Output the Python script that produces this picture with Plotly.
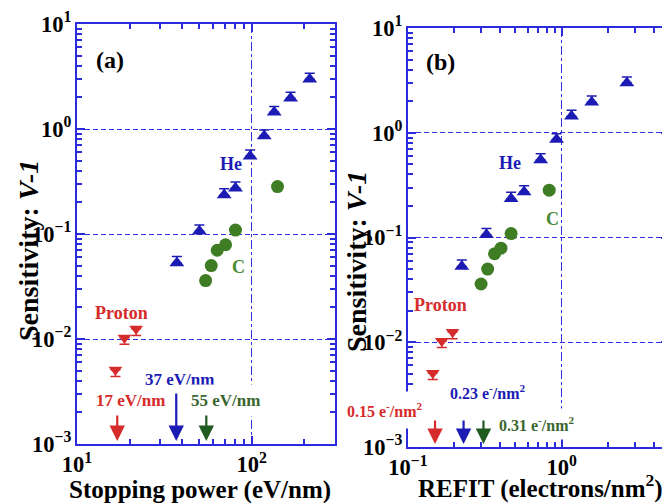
import math
import plotly.graph_objects as go
from plotly.subplots import make_subplots

# ---------------- data ----------------
he_sp = [37.3, 50.2, 69.6, 80.8, 98.0, 118.0, 134.6, 167.0, 215.0]
he_refit = [0.224, 0.324, 0.469, 0.57, 0.73, 0.927, 1.16, 1.57, 2.66]
he_sens = [0.053, 0.106, 0.235, 0.272, 0.55, 0.86, 1.44, 1.96, 2.98]
he_err = [0.008, 0.016, 0.035, 0.04, 0.08, 0.12, 0.2, 0.28, 0.42]

c_sp = [54.5, 58.7, 63.5, 70.9, 80.8, 140.6]
c_refit = [0.299, 0.33, 0.366, 0.403, 0.469, 0.83]
c_sens = [0.036, 0.050, 0.070, 0.079, 0.109, 0.283]

p_sp = [16.6, 18.7, 21.8]
p_refit = [0.145, 0.166, 0.195]
p_sens = [0.0051, 0.0103, 0.0125]
p_err = [0.0007, 0.0014, 0.0017]

thr_sp = [17, 37, 55]
thr_sp_labels = ["17 eV/nm", "37 eV/nm", "55 eV/nm"]
thr_refit = [0.15, 0.23, 0.31]
thr_refit_labels = ["0.15 e<sup>-</sup>/nm<sup>2</sup>", "0.23 e<sup>-</sup>/nm<sup>2</sup>",
                    "0.31 e<sup>-</sup>/nm<sup>2</sup>"]

y_range = [1e-3, 1e1]
x1_range = [10, 300]
x2_range = [0.1, 5]
# tick labels the library writes plainly, shown as powers of ten
tick_alias = {"1": "10<sup>0</sup>", "10": "10<sup>1</sup>"}

# ---------------- style ----------------
AX = "#2b2bdb"
GRID = "#3030e0"
BLUE = "#1c1cb4"
GREEN = "#3f7d25"
GREEN_T = "#4a8a35"
DKGREEN = "#1f5a1f"
DKGREEN_T = "#3a6630"
RED = "#d62b2b"
FONT = "Liberation Serif"

# the page body adds an 8 px offset; size the figure to compensate
OFF = 8
W, H = 670 - OFF, 503 - OFF
ml, mr, mt, mb = 77 - OFF, 1, 24 - OFF, H - (447 - OFF)
pw = W - ml - mr
ph = H - mt - mb


def px_x(p):
    return (p - OFF - ml) / pw


def px_y(p):
    return (mt + ph - (p - OFF)) / ph


fig = make_subplots(rows=1, cols=2, horizontal_spacing=0.0)

fig.update_layout(
    width=W, height=H,
    margin=dict(l=ml, r=mr, t=mt, b=mb, autoexpand=False),
    paper_bgcolor="white", plot_bgcolor="white",
    showlegend=False,
    font=dict(family=FONT, color="black"),
)

fig.update_xaxes(domain=[0, px_x(335)], row=1, col=1)
fig.update_xaxes(domain=[px_x(408), 1.0], row=1, col=2)
fig.update_yaxes(domain=[px_y(444), 1.0], row=1, col=1)
fig.update_yaxes(domain=[0.0, px_y(28)], row=1, col=2)


def add_series(x_he, x_c, x_p, col):
    fig.add_trace(go.Scatter(
        x=x_he, y=he_sens, mode="markers",
        marker=dict(symbol="triangle-up", size=13, color=BLUE),
        error_y=dict(type="data", symmetric=False, array=he_err,
                     arrayminus=[0] * len(he_err), color=BLUE, thickness=1.5, width=5),
    ), row=1, col=col)
    fig.add_trace(go.Scatter(
        x=x_c, y=c_sens, mode="markers",
        marker=dict(symbol="circle", size=13, color=GREEN),
    ), row=1, col=col)
    fig.add_trace(go.Scatter(
        x=x_p, y=p_sens, mode="markers",
        marker=dict(symbol="triangle-down", size=12, color=RED),
        error_y=dict(type="data", symmetric=False, array=[0] * len(p_err),
                     arrayminus=p_err, color=RED, thickness=1.5, width=5),
    ), row=1, col=col)


add_series(he_sp, c_sp, p_sp, 1)
add_series(he_refit, c_refit, p_refit, 2)

common_axis = dict(
    type="log", showline=True, linecolor=AX, linewidth=2, mirror="allticks",
    ticks="inside", ticklen=8, tickwidth=1.5, tickcolor=AX,
    showgrid=True, gridwidth=1.4,
    zeroline=False, tickmode="linear", tick0=0, dtick=1,
    exponentformat="power", showexponent="all", labelalias=tick_alias,
    tickfont=dict(family=FONT, size=18, color="black", weight="bold"),
    minor=dict(ticks="inside", ticklen=5, tickwidth=1.5, tickcolor=AX,
               dtick="D1", showgrid=False, gridcolor=GRID),
)

fig.update_xaxes(**common_axis, gridcolor=GRID, griddash="dashdot")
fig.update_yaxes(**common_axis, gridcolor=GRID, griddash="5px,3px",
                 range=[math.log10(v) for v in y_range])
fig.update_xaxes(range=[math.log10(v) for v in x1_range], row=1, col=1)
fig.update_xaxes(range=[math.log10(v) for v in x2_range], row=1, col=2)

TF = dict(family=FONT, size=25, color="black", weight="bold")
YF = dict(family=FONT, size=28, color="black", weight="bold")


def ptext(x, y, text, font, angle=0, bg=None, pad=1):
    fig.add_annotation(xref="paper", yref="paper", x=px_x(x), y=px_y(y),
                       xanchor="center", yanchor="middle", textangle=angle,
                       text=text, showarrow=False, font=font, bgcolor=bg, borderpad=pad)


ptext(200, 490, "Stopping power (eV/nm)", TF)
ptext(540, 487, "REFIT (electrons/nm<sup>2</sup>)", TF)
ptext(28, 251, "Sensitivity: <i>V-1</i>", YF, angle=-90)
ptext(357, 262, "Sensitivity: <i>V-1</i>", YF, angle=-90)


def label(xref, yref, x, y, text, color, size=17, bg=None, pad=1):
    fig.add_annotation(xref=xref, yref=yref, x=x, y=y, text=text, showarrow=False,
                       xanchor="center", yanchor="middle",
                       font=dict(family=FONT, size=size, color=color, weight="bold"),
                       bgcolor=bg, borderpad=pad)


def arrow(xref, yref, xval, length, color):
    fig.add_annotation(xref=xref, yref=yref, x=math.log10(xval), y=-3, ax=0, ay=-length,
                       text="", showarrow=True, arrowhead=2, arrowsize=1.4,
                       arrowwidth=2.2, arrowcolor=color, standoff=3)


# panel (a)
label("x", "y", 1.19, 0.66, "(a)", "black", size=24)
label("x", "y", 1.881, -0.333, "He", BLUE, size=18)
label("x", "y", 1.926, -1.314, "C", GREEN_T, size=18)
label("x", "y", 1.256, -1.752, "Proton", RED, size=18)
label("x", "y", 1.585, -2.39, thr_sp_labels[1], BLUE)
label("x", "y", 1.307, -2.59, thr_sp_labels[0], RED, bg="white", pad=3)
label("x", "y", 1.852, -2.59, thr_sp_labels[2], DKGREEN_T, bg="white", pad=6)
arrow("x", "y", thr_sp[0], 30, RED)
arrow("x", "y", thr_sp[1], 52, BLUE)
arrow("x", "y", thr_sp[2], 30, DKGREEN)

# panel (b)
label("x2", "y2", -0.791, 0.676, "(b)", "black", size=24)
label("x2", "y2", -0.333, -0.286, "He", BLUE, size=18)
label("x2", "y2", -0.059, -0.819, "C", GREEN_T, size=18)
label("x2", "y2", -0.791, -1.648, "Proton", RED, size=18)
label("x2", "y2", -0.477, -2.476, thr_refit_labels[1], BLUE, size=16)
ptext(385, 410, thr_refit_labels[0], dict(family=FONT, size=16, color=RED, weight="bold"),
      bg="white", pad=8)
label("x2", "y2", -0.163, -2.781, thr_refit_labels[2], DKGREEN_T, size=16, bg="white", pad=5)
arrow("x2", "y2", thr_refit[0], 28, RED)
arrow("x2", "y2", thr_refit[1], 28, BLUE)
arrow("x2", "y2", thr_refit[2], 28, DKGREEN)

fig.write_html("out.html")
